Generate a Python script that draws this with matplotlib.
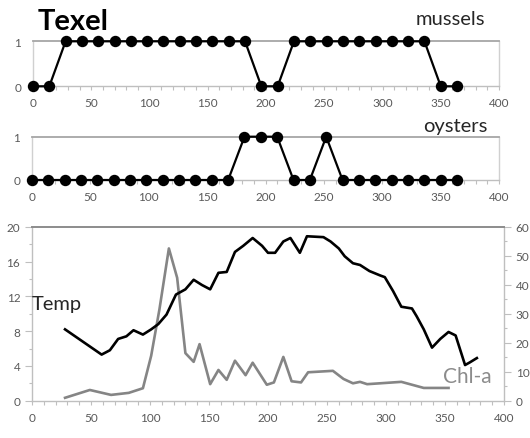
import matplotlib
matplotlib.use("Agg")
import matplotlib.pyplot as plt
from matplotlib.ticker import MultipleLocator

plt.rcParams['font.family'] = ['Lato', 'DejaVu Sans']

# ---------------- data ----------------
survey_days = [0, 14, 28, 42, 56, 70, 84, 98, 112, 126, 140, 154, 168, 182,
               196, 210, 224, 238, 252, 266, 280, 294, 308, 322, 336, 350, 364]
mussels = [0, 0, 1, 1, 1, 1, 1, 1, 1, 1, 1, 1, 1, 1,
           0, 0, 1, 1, 1, 1, 1, 1, 1, 1, 1, 0, 0]
oysters = [0, 0, 0, 0, 0, 0, 0, 0, 0, 0, 0, 0, 0, 1,
           1, 1, 0, 0, 1, 0, 0, 0, 0, 0, 0, 0, 0]

temp_days = [28, 59, 66, 73, 80, 86, 94, 101, 107, 114, 122, 130, 137, 144,
             151, 158, 165, 172, 179, 187, 195, 200, 206, 213, 219, 227, 233,
             247, 253, 260, 265, 272, 278, 286, 295, 299, 306, 313, 322, 326,
             332, 339, 346, 353, 359, 367, 371, 377]
temp = [8.2, 5.3, 5.8, 7.1, 7.4, 8.1, 7.6, 8.2, 8.8, 9.9, 12.2, 12.8, 13.9, 13.3,
        12.8, 14.7, 14.8, 17.1, 17.8, 18.7, 17.8, 17.0, 17.0, 18.3, 18.7, 17.0, 18.9,
        18.8, 18.3, 17.5, 16.6, 15.8, 15.6, 14.9, 14.4, 14.2, 12.6, 10.8, 10.6, 9.7,
        8.2, 6.1, 7.1, 7.9, 7.5, 4.1, 4.4, 4.9]

chl_days = [28, 49, 67, 82, 94, 101, 108, 116, 123, 130, 137, 142, 151, 158,
            165, 172, 181, 187, 199, 205, 213, 220, 228, 234, 255, 264, 272,
            278, 284, 295, 313, 332, 353]
chl = [1.0, 3.7, 2.0, 2.7, 4.3, 15.5, 31.5, 52.5, 42.4, 16.4, 13.4, 19.5, 5.7, 10.6,
       7.2, 13.8, 8.8, 13.1, 5.5, 6.3, 15.1, 6.7, 6.3, 9.8, 10.3, 7.5, 6.0,
       6.5, 5.7, 6.0, 6.5, 4.4, 4.4]

x_ticks = [0, 50, 100, 150, 200, 250, 300, 350, 400]

# ---------------- figure ----------------
W, H = 530, 439
fig = plt.figure(figsize=(W / 100, H / 100), dpi=100)

def frac(left, top, right, bottom):
    return [left / W, 1 - bottom / H, (right - left) / W, (bottom - top) / H]

LABEL_C = '#595959'


def style_presence(ax):
    ax.set_xlim(0, 400)
    ax.set_ylim(0, 1)
    ax.set_xticks(x_ticks)
    ax.xaxis.set_minor_locator(MultipleLocator(10))
    ax.set_yticks([0, 1])
    ax.tick_params(axis='x', which='major', length=3, width=0.8, color='#bfbfbf',
                   labelsize=8.5, labelcolor=LABEL_C, pad=5)
    ax.tick_params(axis='x', which='minor', length=3, width=0.8, color='#bfbfbf')
    ax.tick_params(axis='y', which='major', length=0, labelsize=8.5,
                   labelcolor=LABEL_C, pad=8.5)
    ax.spines['top'].set_color('#a6a6a6')
    ax.spines['top'].set_linewidth(1.3)
    for s in ('left', 'right'):
        ax.spines[s].set_color('#d0d0d0')
        ax.spines[s].set_linewidth(1.0)
    ax.spines['bottom'].set_color('#bfbfbf')
    ax.spines['bottom'].set_linewidth(1.0)


ax1 = fig.add_axes(frac(33, 42.3, 499, 87.3))
ax1.plot(survey_days, mussels, color='black', lw=1.6, marker='o',
         markersize=7.2, clip_on=False, zorder=5)
style_presence(ax1)

ax2 = fig.add_axes(frac(32, 137.7, 499, 181))
ax2.plot(survey_days, oysters, color='black', lw=1.6, marker='o',
         markersize=7.2, clip_on=False, zorder=5)
style_presence(ax2)

ax3 = fig.add_axes(frac(32, 227.7, 504, 401.7))
ax3.plot(temp_days, temp, color='black', lw=1.9, zorder=4)
ax3.set_xlim(0, 400)
ax3.set_ylim(0, 20)
ax3.set_xticks(x_ticks)
ax3.xaxis.set_minor_locator(MultipleLocator(10))
ax3.set_yticks([0, 4, 8, 12, 16, 20])
ax3.yaxis.set_minor_locator(MultipleLocator(2))
ax3.tick_params(axis='x', which='major', length=3, width=0.8, color='#bfbfbf',
                labelsize=8.5, labelcolor=LABEL_C, pad=5)
ax3.tick_params(axis='x', which='minor', length=3, width=0.8, color='#bfbfbf')
ax3.tick_params(axis='y', which='major', length=5, width=0.8, color='#bfbfbf',
                labelsize=8.5, labelcolor=LABEL_C, pad=3.5)
ax3.tick_params(axis='y', which='minor', length=2.5, width=0.8, color='#bfbfbf')
ax3.spines['top'].set_color('#8c8c8c')
ax3.spines['top'].set_linewidth(1.4)
for s in ('left', 'right', 'bottom'):
    ax3.spines[s].set_color('#bfbfbf')
    ax3.spines[s].set_linewidth(1.0)

ax4 = ax3.twinx()
ax4.plot(chl_days, chl, color='#858585', lw=1.9, zorder=3)
ax4.set_ylim(0, 60)
ax4.set_yticks([0, 10, 20, 30, 40, 50, 60])
ax4.yaxis.set_minor_locator(MultipleLocator(5))
ax4.tick_params(axis='y', which='major', length=5, width=0.8, color='#bfbfbf',
                labelsize=8.5, labelcolor=LABEL_C, pad=3.5)
ax4.tick_params(axis='y', which='minor', length=2.5, width=0.8, color='#bfbfbf')
for s in ax4.spines.values():
    s.set_visible(False)
ax3.set_zorder(ax4.get_zorder() + 1)
ax3.patch.set_visible(False)

# ---------------- texts ----------------
fig.text(38 / W, 1 - 29.5 / H, 'Texel', fontsize=21, fontweight='bold',
         color='black', ha='left', va='baseline')
fig.text(485 / W, 1 - 25 / H, 'mussels', fontsize=14.5, color='#262626',
         ha='right', va='baseline')
fig.text(487 / W, 1 - 132.3 / H, 'oysters', fontsize=14.5, color='#262626',
         ha='right', va='baseline')
fig.text(32 / W, 1 - 310 / H, 'Temp', fontsize=14.5, color='#262626',
         ha='left', va='baseline')
fig.text(443 / W, 1 - 383.3 / H, 'Chl-a', fontsize=15, color='#8c8c8c',
         ha='left', va='baseline')

fig.savefig('out.png', dpi=100)
